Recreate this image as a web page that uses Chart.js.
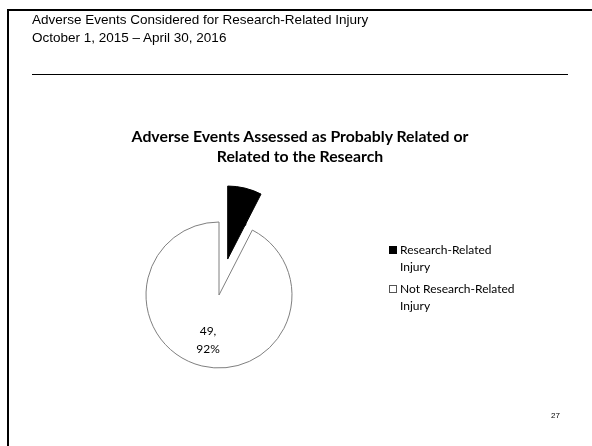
<!DOCTYPE html>
<html><head><meta charset="utf-8">
<script src="https://cdn.jsdelivr.net/npm/chart.js@4.4.1/dist/chart.umd.min.js"></script>
<style>
html,body{margin:0;padding:0;background:#fff;}
body{width:592px;height:446px;position:relative;overflow:hidden;}
#wrap{position:absolute;left:0;top:0;width:592px;height:446px;}
#frame{position:absolute;left:7px;top:9px;width:640px;height:500px;border-left:2px solid #000;border-top:2px solid #000;}
#head{position:absolute;left:32px;top:11px;font-family:"Liberation Sans",Arial,sans-serif;font-size:13.5px;line-height:18px;color:#000;}
#rule{position:absolute;left:32px;top:74px;width:536px;height:0;border-top:1px solid #000;}
#ctitle{position:absolute;left:0;width:600px;top:126px;text-align:center;font-family:Lato,"Open Sans",sans-serif;font-weight:bold;font-size:15.8px;line-height:20px;color:#000;}
#legend{position:absolute;left:389px;top:241px;font-family:Lato,"Open Sans",sans-serif;font-size:12px;line-height:17px;color:#000;}
.item{position:relative;padding-left:11px;margin-bottom:5px;}
.box{position:absolute;left:0;top:5px;width:8px;height:8px;box-sizing:border-box;}
#pg{position:absolute;left:551px;top:411px;font-family:"Liberation Sans",Arial,sans-serif;font-size:8px;color:#000;}
</style></head>
<body>
<div id="wrap"><canvas id="c"></canvas></div>
<div id="frame"></div>
<div id="head"></div>
<div id="rule"></div>
<div id="ctitle"></div>
<div id="legend"></div>
<div id="pg"></div>
<script>
const slideTitle = ["Adverse Events Considered for Research-Related Injury", "October 1, 2015 \u2013 April 30, 2016"];
const chartTitle = ["Adverse Events Assessed as Probably Related or", "Related to the Research"];
const categories = ["Research-Related Injury", "Not Research-Related Injury"];
const counts = [4, 49];
const pageNumber = "27";

document.getElementById('head').innerHTML = slideTitle.join('<br>');
document.getElementById('ctitle').innerHTML = chartTitle.join('<br>');
document.getElementById('pg').textContent = pageNumber;

const fills = ['#000000', '#ffffff'];
const borders = ['#000000', '#7f7f7f'];
const total = counts.reduce((a, b) => a + b, 0);

const legendEl = document.getElementById('legend');
categories.forEach((name, i) => {
  const d = document.createElement('div');
  d.className = 'item';
  const b = document.createElement('span');
  b.className = 'box';
  b.style.background = fills[i];
  b.style.border = '1px solid ' + (i === 0 ? '#000' : '#555');
  d.appendChild(b);
  const t = document.createElement('span');
  t.innerHTML = name.replace(/ (\S+)$/, '<br>$1');
  d.appendChild(t);
  legendEl.appendChild(d);
});

const explodePlugin = {
  id: 'explode',
  afterDatasetUpdate(chart, args) {
    const el = args.meta.data[0];
    if (!el) return;
    const mid = (el.startAngle + el.endAngle) / 2;
    el.x += Math.cos(mid) * 37;
    el.y += Math.sin(mid) * 37;
  }
};

const labelPlugin = {
  id: 'sliceLabels',
  afterDatasetsDraw(chart) {
    const meta = chart.getDatasetMeta(0);
    const ctx = chart.ctx;
    ctx.save();
    ctx.font = '12px Lato, "Open Sans", sans-serif';
    ctx.textAlign = 'center';
    ctx.textBaseline = 'middle';
    meta.data.forEach((el, i) => {
      const mid = (el.startAngle + el.endAngle) / 2;
      const r = el.outerRadius * 0.64;
      const x = el.x + Math.cos(mid) * r;
      const y = el.y + Math.sin(mid) * r;
      const pct = Math.round(counts[i] / total * 100) + '%';
      ctx.fillStyle = '#000';
      ctx.fillText(counts[i] + ',', x, y - 9);
      ctx.fillText(pct, x, y + 9);
    });
    ctx.restore();
  }
};

new Chart(document.getElementById('c'), {
  type: 'pie',
  data: {
    labels: categories,
    datasets: [{
      data: counts,
      backgroundColor: fills,
      borderColor: borders,
      borderWidth: 1,
      radius: 73
    }]
  },
  options: {
    responsive: true,
    maintainAspectRatio: false,
    animation: false,
    events: [],
    layout: { padding: { left: 119, top: 195, right: 273, bottom: 51 } },
    plugins: { legend: { display: false }, tooltip: { enabled: false }, title: { display: false } }
  },
  plugins: [explodePlugin, labelPlugin]
});
</script>
</body></html>
